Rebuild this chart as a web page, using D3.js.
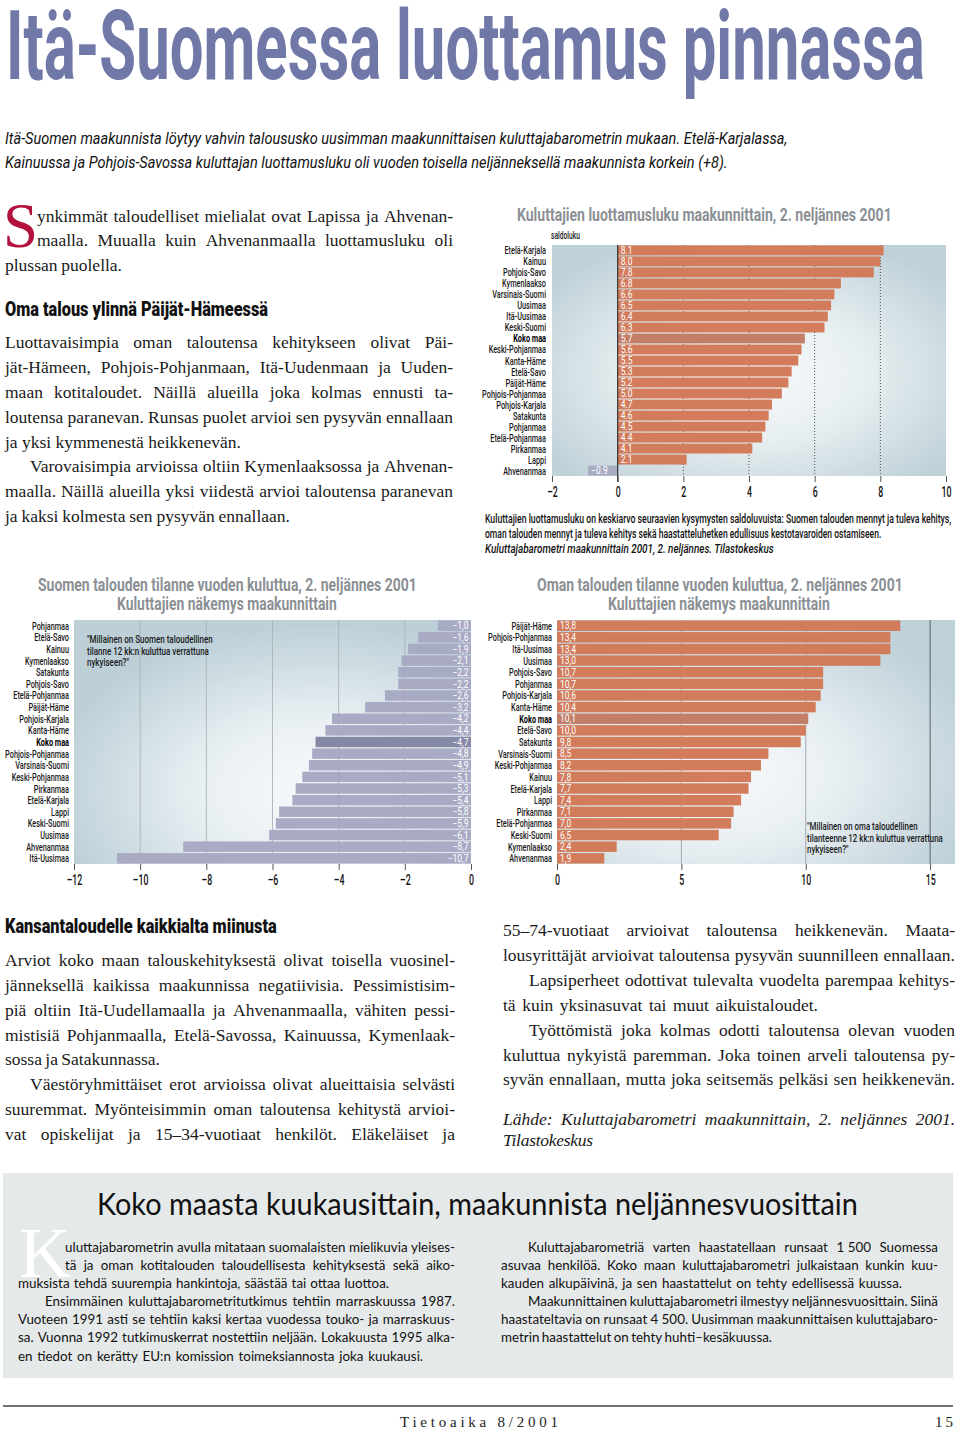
<!DOCTYPE html>
<html><head><meta charset="utf-8">
<script src="https://cdn.jsdelivr.net/npm/d3@7/dist/d3.min.js"></script>
<style>
body{margin:0;background:#fff;}
svg{display:block;}
</style></head><body>
<svg id="page" width="960" height="1430"></svg>
<script>
// ---------------- DATA ----------------
const c1Cats = ["Etelä-Karjala","Kainuu","Pohjois-Savo","Kymenlaakso","Varsinais-Suomi","Uusimaa","Itä-Uusimaa","Keski-Suomi","Koko maa","Keski-Pohjanmaa","Kanta-Häme","Etelä-Savo","Päijät-Häme","Pohjois-Pohjanmaa","Pohjois-Karjala","Satakunta","Pohjanmaa","Etelä-Pohjanmaa","Pirkanmaa","Lappi","Ahvenanmaa"];
const c1Vals = [8.1,8.0,7.8,6.8,6.6,6.5,6.4,6.3,5.7,5.6,5.5,5.3,5.2,5.0,4.7,4.6,4.5,4.4,4.1,2.1,-0.9];
const c1Ticks = [-2,0,2,4,6,8,10];

const c2Cats = ["Pohjanmaa","Etelä-Savo","Kainuu","Kymenlaakso","Satakunta","Pohjois-Savo","Etelä-Pohjanmaa","Päijät-Häme","Pohjois-Karjala","Kanta-Häme","Koko maa","Pohjois-Pohjanmaa","Varsinais-Suomi","Keski-Pohjanmaa","Pirkanmaa","Etelä-Karjala","Lappi","Keski-Suomi","Uusimaa","Ahvenanmaa","Itä-Uusimaa"];
const c2Vals = [-1.0,-1.6,-1.9,-2.1,-2.2,-2.2,-2.6,-3.2,-4.2,-4.4,-4.7,-4.8,-4.9,-5.1,-5.3,-5.4,-5.8,-5.9,-6.1,-8.7,-10.7];
const c2Ticks = [-12,-10,-8,-6,-4,-2,0];

const c3Cats = ["Päijät-Häme","Pohjois-Pohjanmaa","Itä-Uusimaa","Uusimaa","Pohjois-Savo","Pohjanmaa","Pohjois-Karjala","Kanta-Häme","Koko maa","Etelä-Savo","Satakunta","Varsinais-Suomi","Keski-Pohjanmaa","Kainuu","Etelä-Karjala","Lappi","Pirkanmaa","Etelä-Pohjanmaa","Keski-Suomi","Kymenlaakso","Ahvenanmaa"];
const c3Vals = [13.8,13.4,13.4,13.0,10.7,10.7,10.6,10.4,10.1,10.0,9.8,8.5,8.2,7.8,7.7,7.4,7.1,7.0,6.5,2.4,1.9];
const c3Ticks = [0,5,10,15];

// ---------------- SETUP ----------------
const svg = d3.select('#page');
const defs = svg.append('defs');
const SANS = "Roboto, 'DejaVu Sans', sans-serif";
const SERIF = "'Liberation Serif', 'DejaVu Serif', serif";
const HUM = "Lato, 'Open Sans', sans-serif";

function radial(id, cx, cy, r, stops){
  const gr = defs.append('radialGradient').attr('id', id).attr('cx', cx).attr('cy', cy).attr('r', r);
  stops.forEach(s => gr.append('stop').attr('offset', s[0]).attr('stop-color', s[1]));
}
radial('bg1','50%','55%','62%',[['0%','#f7f9fa'],['45%','#e9f0f2'],['100%','#c0d2d9']]);
radial('bg2','62%','70%','68%',[['0%','#f8fafb'],['45%','#e8eff2'],['100%','#bdd0d8']]);
radial('bg3','40%','62%','68%',[['0%','#f8fafb'],['45%','#e8eff2'],['100%','#bfd1d9']]);

function applyFont(sel, f){
  sel.attr('font-family', f.family).attr('font-size', f.size)
     .attr('font-weight', f.weight||400).attr('font-style', f.style||'normal');
  if (f.ls) sel.attr('letter-spacing', f.ls);
  sel.attr('fill', f.fill||'#111');
  return sel;
}
function measure(str, f){
  const t = applyFont(svg.append('text'), f).attr('x',-2000).attr('y',-2000).text(str);
  const w = t.node().getComputedTextLength(); t.remove(); return w;
}
function ctext(g, str, x, y, f, o){
  o = o||{};
  const t = applyFont(g.append('text'), f).attr('text-anchor', o.anchor||'start').text(str);
  let sx = o.sx||1;
  if (o.width) sx = o.width / t.node().getComputedTextLength();
  t.attr('transform', `translate(${x},${y}) scale(${sx},1)`);
  return t;
}
function jline(g, str, x0, x1, y, f){
  const words = str.split(' ');
  const ws = words.map(w => measure(w, f));
  const total = d3.sum(ws);
  const n = words.length - 1;
  const avail = x1 - x0;
  if (n === 0 || total + n*f.size*0.15 > avail){
    applyFont(g.append('text'), f).attr('x', x0).attr('y', y).text(str)
      .attr('textLength', avail).attr('lengthAdjust', n===0 ? 'spacing' : 'spacingAndGlyphs');
    return;
  }
  const gap = (avail - total)/n;
  const t = applyFont(g.append('text'), f).attr('y', y);
  let x = x0;
  words.forEach((w,i) => { t.append('tspan').attr('x', x).text(w); x += ws[i] + gap; });
}

// ---------------- HEADLINE ----------------
const hdr = svg.append('g');
ctext(hdr, "Itä-Suomessa luottamus pinnassa", 6, 79, {family:SANS, size:97, weight:700, fill:'#7078a8'}, {width:919});
const subF = {family:SANS, size:17, style:'italic', fill:'#111'};
ctext(hdr, "Itä-Suomen maakunnista löytyy vahvin taloususko uusimman maakunnittaisen kuluttajabarometrin mukaan. Etelä-Karjalassa,", 5, 144, subF, {width:783});
ctext(hdr, "Kainuussa ja Pohjois-Savossa kuluttajan luottamusluku oli vuoden toisella neljänneksellä maakunnista korkein (+8).", 5, 168, subF, {width:723});

// ---------------- BODY TEXT ----------------
const bodyF = {family:SERIF, size:17.5, fill:'#1a1a1a'};
const italF = {family:SERIF, size:17.5, style:'italic', fill:'#1a1a1a'};
const headF = {family:SANS, size:19.5, weight:900, fill:'#111'};
const body = svg.append('g');
body.append('text').attr('x',3).attr('y',247).attr('font-family',SERIF).attr('font-size',63).attr('fill','#b3123e').text('S');

const leftTop = [
  ["ynkimmät taloudelliset mielialat ovat Lapissa ja Ahvenan-",37,453,222],
  ["maalla. Muualla kuin Ahvenanmaalla luottamusluku oli",37,453,246],
  ["plussan puolella.",5,122,271],
  ["Luottavaisimpia oman taloutensa kehitykseen olivat Päi-",5,453,348],
  ["jät-Hämeen, Pohjois-Pohjanmaan, Itä-Uudenmaan ja Uuden-",5,453,373],
  ["maan kotitaloudet. Näillä alueilla joka kolmas ennusti ta-",5,453,398],
  ["loutensa paranevan. Runsas puolet arvioi sen pysyvän ennallaan",5,453,423],
  ["ja yksi kymmenestä heikkenevän.",5,241,448],
  ["Varovaisimpia arvioissa oltiin Kymenlaaksossa ja Ahvenan-",30,453,472],
  ["maalla. Näillä alueilla yksi viidestä arvioi taloutensa paranevan",5,453,497],
  ["ja kaksi kolmesta sen pysyvän ennallaan.",5,290,522]
];
leftTop.forEach(l => jline(body, l[0], l[1], l[2], l[3], bodyF));
ctext(body, "Oma talous ylinnä Päijät-Hämeessä", 5, 316, headF, {width:263});

ctext(body, "Kansantaloudelle kaikkialta miinusta", 5, 933, headF, {width:272});
const leftBottom = [
  ["Arviot koko maan talouskehityksestä olivat toisella vuosinel-",5,455,966],
  ["jänneksellä kaikissa maakunnissa negatiivisia. Pessimistisim-",5,455,991],
  ["piä oltiin Itä-Uudellamaalla ja Ahvenanmaalla, vähiten pessi-",5,455,1016],
  ["mistisiä Pohjanmaalla, Etelä-Savossa, Kainuussa, Kymenlaak-",5,455,1041],
  ["sossa ja Satakunnassa.",5,160,1065],
  ["Väestöryhmittäiset erot arvioissa olivat alueittaisia selvästi",30,455,1090],
  ["suuremmat. Myönteisimmin oman taloutensa kehitystä arvioi-",5,455,1115],
  ["vat opiskelijat ja 15–34-vuotiaat henkilöt. Eläkeläiset ja",5,455,1140]
];
leftBottom.forEach(l => jline(body, l[0], l[1], l[2], l[3], bodyF));
const rightBottom = [
  ["55–74-vuotiaat arvioivat taloutensa heikkenevän. Maata-",503,955,936],
  ["lousyrittäjät arvioivat taloutensa pysyvän suunnilleen ennallaan.",503,955,961],
  ["Lapsiperheet odottivat tulevalta vuodelta parempaa kehitys-",529,955,986],
  ["tä kuin yksinasuvat tai muut aikuistaloudet.",503,818,1011],
  ["Työttömistä joka kolmas odotti taloutensa olevan vuoden",529,955,1036],
  ["kuluttua nykyistä paremman. Joka toinen arveli taloutensa py-",503,955,1061],
  ["syvän ennallaan, mutta joka seitsemäs pelkäsi sen heikkenevän.",503,955,1085]
];
rightBottom.forEach(l => jline(body, l[0], l[1], l[2], l[3], bodyF));
jline(body, "Lähde: Kuluttajabarometri maakunnittain, 2. neljännes 2001.", 503, 955, 1125, italF);
jline(body, "Tilastokeskus", 503, 593, 1146, italF);

// ---------------- CHART HELPERS ----------------
const labF = {family:SANS, size:11.5, weight:500, fill:'#1a1a1a'};
const labB = {family:SANS, size:11.5, weight:700, fill:'#000'};
const valF = {family:SANS, size:10.5, fill:'#ffffff'};
const tickF = {family:SANS, size:14, weight:500, fill:'#111'};
const titleF = {family:SANS, size:17.5, weight:700, fill:'#8b9095'};
const annF = {family:SANS, size:10.5, weight:500, fill:'#1a1a1a'};
const sxLab = 64 / measure("Pohjois-Pohjanmaa", labF);
const sxVal = 16 / measure("13,8", valF);
const sxTick = 10 / measure("10", tickF);
const dash = s => s.replace('-', '–');
const fmtDot = v => dash(d3.format('.1f')(v));
const fmtComma = v => dash(d3.format('.1f')(v)).replace('.', ',');

function drawChart(o){
  const g = svg.append('g');
  const x = d3.scaleLinear().domain(o.domain).range(o.xr);
  const y = d3.scaleBand().domain(o.cats).range(o.yr).paddingInner(0.1).paddingOuter(0.04);
  g.append('rect').attr('x', o.xr[0]).attr('y', o.yr[0])
    .attr('width', o.xr[1]-o.xr[0]).attr('height', o.yr[1]-o.yr[0]).attr('fill', `url(#${o.grad})`);
  o.grid.forEach(gr => g.append('line').attr('x1', x(gr.v)).attr('x2', x(gr.v))
    .attr('y1', o.yr[0]).attr('y2', o.yr[1]).attr('stroke', gr.stroke).attr('stroke-width', gr.w||1)
    .attr('stroke-dasharray', gr.dash||null));
  const data = o.cats.map((c,i) => ({c, v:o.vals[i]}));
  g.selectAll('rect.bar').data(data).join('rect').attr('class','bar')
    .attr('x', d => x(Math.min(0,d.v))).attr('width', d => Math.abs(x(d.v)-x(0)))
    .attr('y', d => y(d.c)).attr('height', y.bandwidth()).attr('fill', o.color);
  if (o.zeroLine) g.append('line').attr('x1', x(0)).attr('x2', x(0)).attr('y1', o.yr[0]).attr('y2', o.yr[1]+6)
    .attr('stroke', '#333').attr('stroke-width', 1.2);
  const bw = y.bandwidth();
  data.forEach(d => {
    const lx = o.valueAnchor === 'end' ? x(0)-2.5 : x(Math.min(0,d.v))+3;
    ctext(g, o.fmt(d.v), lx, y(d.c)+bw/2+3.7, valF, {sx:sxVal, anchor:o.valueAnchor||'start'});
    ctext(g, d.c, o.labelX, y(d.c)+bw/2+4, d.c==='Koko maa' ? labB : labF, {sx:sxLab, anchor:'end'});
  });
  const ag = g.append('g').attr('transform', `translate(0,${o.yr[1]})`)
    .call(d3.axisBottom(x).tickValues(o.ticks).tickSize(6).tickFormat(v => dash(String(v))));
  ag.select('.domain').remove();
  ag.selectAll('.tick line').attr('stroke', '#555');
  ag.selectAll('.tick text').each(function(){
    const t = d3.select(this);
    applyFont(t, tickF);
    t.attr('y', null).attr('dy', null).attr('transform', `translate(0,21) scale(${sxTick},1)`);
  });
  return g;
}

// ---------------- CHART 1 ----------------
const g1 = drawChart({
  cats:c1Cats, vals:c1Vals, domain:[-2,10], xr:[552,946], yr:[245,476], ticks:c1Ticks, grad:'bg1',
  grid:[2,4,6,8].map(v => ({v, stroke:'#4a4f55', dash:'1,2'})),
  color: d => d.v < 0 ? '#a9abc0' : (d.c==='Koko maa' ? '#c27e68' : '#d27c5c'),
  labelX:546, fmt:fmtDot, zeroLine:true
});
ctext(g1, "Kuluttajien luottamusluku maakunnittain, 2. neljännes 2001", 517, 221, titleF, {width:375});
ctext(g1, "saldoluku", 551, 239, {family:SANS, size:10.5, weight:500, fill:'#1a1a1a'}, {sx:sxLab});
const capF = {family:SANS, size:12, weight:500, fill:'#111'};
ctext(g1, "Kuluttajien luottamusluku on keskiarvo seuraavien kysymysten saldoluvuista: Suomen talouden mennyt ja tuleva kehitys,", 485, 523, capF, {width:467});
ctext(g1, "oman talouden mennyt ja tuleva kehitys sekä haastatteluhetken edullisuus kestotavaroiden ostamiseen.", 485, 538, capF, {width:397});
ctext(g1, "Kuluttajabarometri maakunnittain 2001, 2. neljännes. Tilastokeskus", 485, 553, {family:SANS, size:12, weight:500, style:'italic', fill:'#111'}, {width:289});

// ---------------- CHART 2 ----------------
const g2 = drawChart({
  cats:c2Cats, vals:c2Vals, domain:[-12,0], xr:[74,471], yr:[620,864], ticks:c2Ticks, grad:'bg2',
  grid:[-10,-8,-6,-4,-2].map(v => ({v, stroke:'#aab3ba', w:0.9})),
  color: d => d.c==='Koko maa' ? '#8689a6' : '#a9abc4',
  labelX:69, fmt:fmtComma, valueAnchor:'end'
});
ctext(g2, "Suomen talouden tilanne vuoden kuluttua, 2. neljännes 2001", 38, 591, titleF, {width:379});
ctext(g2, "Kuluttajien näkemys maakunnittain", 117, 610, titleF, {width:220});
const sxAnn2 = 122 / measure("tilanne 12 kk:n kuluttua verrattuna", annF);
ctext(g2, "\"Millainen on Suomen taloudellinen", 87, 643, annF, {sx:sxAnn2});
ctext(g2, "tilanne 12 kk:n kuluttua verrattuna", 87, 654.5, annF, {sx:sxAnn2});
ctext(g2, "nykyiseen?\"", 87, 666, annF, {sx:sxAnn2});

// ---------------- CHART 3 ----------------
const g3 = drawChart({
  cats:c3Cats, vals:c3Vals, domain:[0,16], xr:[557,955], yr:[620,864], ticks:c3Ticks, grad:'bg3',
  grid:[{v:5, stroke:'#9aa3aa', w:0.9},{v:10, stroke:'#9aa3aa', w:0.9},{v:15, stroke:'#56626c', w:1}],
  color: d => d.c==='Koko maa' ? '#c27e68' : '#d27c5c',
  labelX:552, fmt:fmtComma
});
ctext(g3, "Oman talouden tilanne vuoden kuluttua, 2. neljännes 2001", 537, 591, titleF, {width:366});
ctext(g3, "Kuluttajien näkemys maakunnittain", 608, 610, titleF, {width:222});
const sxAnn3 = 136 / measure("tilanteenne 12 kk:n kuluttua verrattuna", annF);
ctext(g3, "\"Millainen on oma taloudellinen", 807, 830, annF, {sx:sxAnn3});
ctext(g3, "tilanteenne 12 kk:n kuluttua verrattuna", 807, 841.5, annF, {sx:sxAnn3});
ctext(g3, "nykyiseen?\"", 807, 853, annF, {sx:sxAnn3});

// ---------------- INFO BOX ----------------
const box = svg.append('g');
box.append('rect').attr('x',3).attr('y',1173).attr('width',950).attr('height',205).attr('fill','#e6e9e9');
ctext(box, "Koko maasta kuukausittain, maakunnista neljännesvuosittain", 97, 1215, {family:HUM, size:31, weight:400, fill:'#111'}, {width:761});
box.append('text').attr('x',19).attr('y',1277).attr('font-family',SERIF).attr('font-size',72).attr('fill','#ffffff').text('K');
const boxF = {family:HUM, size:13.4, fill:'#111'};
const boxLines = [
  ["uluttajabarometrin avulla mitataan suomalaisten mielikuvia yleises-",65,455,1252],
  ["tä ja oman kotitalouden taloudellisesta kehityksestä sekä aiko-",65,455,1270],
  ["muksista tehdä suurempia hankintoja, säästää tai ottaa luottoa.",18,389,1288],
  ["Ensimmäinen kuluttajabarometritutkimus tehtiin marraskuussa 1987.",45,455,1306],
  ["Vuoteen 1991 asti se tehtiin kaksi kertaa vuodessa touko- ja marraskuus-",18,455,1324],
  ["sa. Vuonna 1992 tutkimuskerrat nostettiin neljään. Lokakuusta 1995 alka-",18,455,1342],
  ["en tiedot on kerätty EU:n komission toimeksiannosta joka kuukausi.",18,423,1361],
  ["Kuluttajabarometriä varten haastatellaan runsaat 1\u00a0500 Suomessa",528,938,1252],
  ["asuvaa henkilöä. Koko maan kuluttajabarometri julkaistaan kunkin kuu-",501,938,1270],
  ["kauden alkupäivinä, ja sen haastattelut on tehty edellisessä kuussa.",501,902,1288],
  ["Maakunnittainen kuluttajabarometri ilmestyy neljännesvuosittain. Siinä",528,938,1306],
  ["haastateltavia on runsaat 4\u00a0500. Uusimman maakunnittaisen kuluttajabaro-",501,938,1324],
  ["metrin haastattelut on tehty huhti–kesäkuussa.",501,772,1342]
];
boxLines.forEach(l => jline(box, l[0], l[1], l[2], l[3], boxF));

// ---------------- FOOTER ----------------
const foot = svg.append('g');
foot.append('line').attr('x1',3).attr('x2',953).attr('y1',1406).attr('y2',1406).attr('stroke','#444').attr('stroke-width',1.5);
foot.append('text').attr('x',400).attr('y',1427).attr('font-family',SERIF).attr('font-size',15).attr('fill','#222')
  .attr('textLength',158).attr('lengthAdjust','spacing').text('Tietoaika 8/2001');
foot.append('text').attr('x',935).attr('y',1427).attr('font-family',SERIF).attr('font-size',15).attr('fill','#222')
  .attr('textLength',18).attr('lengthAdjust','spacing').text('15');
</script>
</body></html>
